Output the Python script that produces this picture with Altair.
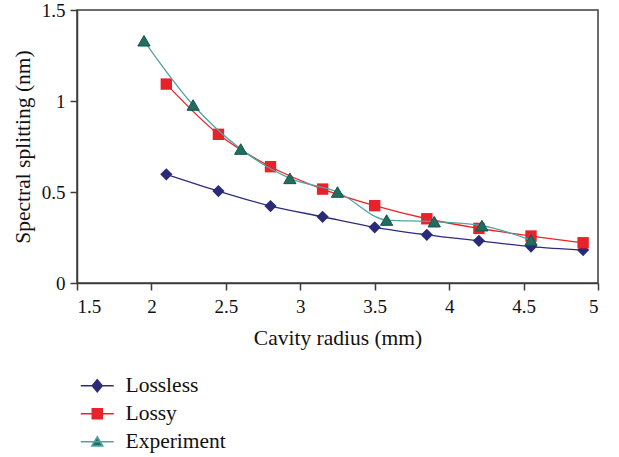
import altair as alt
import pandas as pd

series_names = ["Lossless", "Lossy", "Experiment"]
x_model = [2.1, 2.45, 2.8, 3.15, 3.5, 3.85, 4.2, 4.55, 4.9]
lossless = [0.597, 0.505, 0.423, 0.364, 0.306, 0.265, 0.232, 0.200, 0.181]
lossy = [1.093, 0.817, 0.639, 0.516, 0.425, 0.353, 0.300, 0.258, 0.221]
x_exp = [1.95, 2.28, 2.6, 2.93, 3.25, 3.58, 3.9, 4.22, 4.55]
experiment = [1.331, 0.978, 0.736, 0.575, 0.500, 0.346, 0.337, 0.315, 0.236]
x_ticks = [1.5, 2, 2.5, 3, 3.5, 4, 4.5, 5]
y_ticks = [0, 0.5, 1, 1.5]

rows = []
for xs, ys, name in [(x_model, lossless, "Lossless"), (x_model, lossy, "Lossy"), (x_exp, experiment, "Experiment")]:
    for xv, yv in zip(xs, ys):
        rows.append({"series": name, "x": xv, "y": yv})
df = pd.DataFrame(rows)

line_colors = {"Lossless": "#2E2C7C", "Lossy": "#EC2229", "Experiment": "#55A2A2"}
fill_colors = {"Lossless": "#2B2A78", "Lossy": "#E8222A", "Experiment": "#1F6E60"}
shapes = {"Lossless": "diamond", "Lossy": "square", "Experiment": "triangle-up"}
sizes = {"Lossless": 150, "Lossy": 130, "Experiment": 150}
legend_paths = [
    "M-1,0L5.6,0M2.3,-1.2L3.3,0L2.3,1.2L1.3,0Z",
    "M-1,0L5.6,0M1.3,-1L3.3,-1L3.3,1L1.3,1Z",
    "M-1,0L5.6,0M2.3,-1L3.4,0.85L1.2,0.85Z",
]

font = "Liberation Serif"
xenc = alt.X("x:Q", scale=alt.Scale(domain=[1.5, 5], nice=False),
             axis=alt.Axis(title="Cavity radius (mm)", values=x_ticks,
                           labelExpr="'' + datum.value"))
yenc = alt.Y("y:Q", scale=alt.Scale(domain=[0, 1.5], nice=False),
             axis=alt.Axis(title="Spectral splitting (nm)", values=y_ticks,
                           labelExpr="'' + datum.value"))

base = alt.Chart(df)
layers = []
for name in series_names:
    sub = base.transform_filter(alt.datum.series == name)
    layers.append(sub.mark_line(color=line_colors[name], strokeWidth=1.3,
                                interpolate="monotone").encode(x=xenc, y=yenc))
    pt_kwargs = dict(shape=shapes[name], filled=True, size=sizes[name],
                     fill=fill_colors[name], opacity=1)
    if name == "Experiment":
        pt_kwargs.update(stroke="#16544A", strokeWidth=1)
    else:
        pt_kwargs.update(strokeWidth=0)
    layers.append(sub.mark_point(**pt_kwargs).encode(x=xenc, y=yenc))

legend = alt.Legend(title=None, orient="none", legendX=-2, legendY=365,
                    labelFont=font, labelFontSize=21.5, labelColor="#111111",
                    symbolSize=100, symbolStrokeWidth=1.5, labelOffset=29,
                    rowPadding=5, symbolOpacity=1)
legend_layer = base.transform_filter("datum.y < 0").mark_point(filled=True).encode(
    x=xenc, y=yenc,
    fill=alt.Fill("series:N", scale=alt.Scale(domain=series_names,
                  range=[fill_colors[n] for n in series_names]), legend=legend),
    stroke=alt.Stroke("series:N", scale=alt.Scale(domain=series_names,
                      range=[line_colors[n] for n in series_names]), legend=legend),
    shape=alt.Shape("series:N", scale=alt.Scale(domain=series_names, range=legend_paths),
                    legend=legend),
)
layers.append(legend_layer)

chart = alt.layer(*layers).properties(
    width=521, height=273,
    autosize=alt.AutoSizeParams(type="none"),
    padding={"left": 77, "top": 10, "right": 21, "bottom": 174},
).configure(
    font=font
).configure_view(
    stroke="#3C3C3C", strokeWidth=1.5
).configure_axis(
    grid=False, labelFont=font, titleFont=font, labelFontSize=19, titleFontSize=21.5,
    labelColor="#111111", titleColor="#111111", titleFontWeight="normal",
    domainColor="#3C3C3C", domainWidth=1.5, tickColor="#3C3C3C", tickWidth=1.5,
    tickSize=7,
).configure_axisX(labelPadding=7, titlePadding=11).configure_axisY(labelPadding=5, titlePadding=7)

chart.save("out.html", embed_options={"renderer": "svg", "actions": False})
